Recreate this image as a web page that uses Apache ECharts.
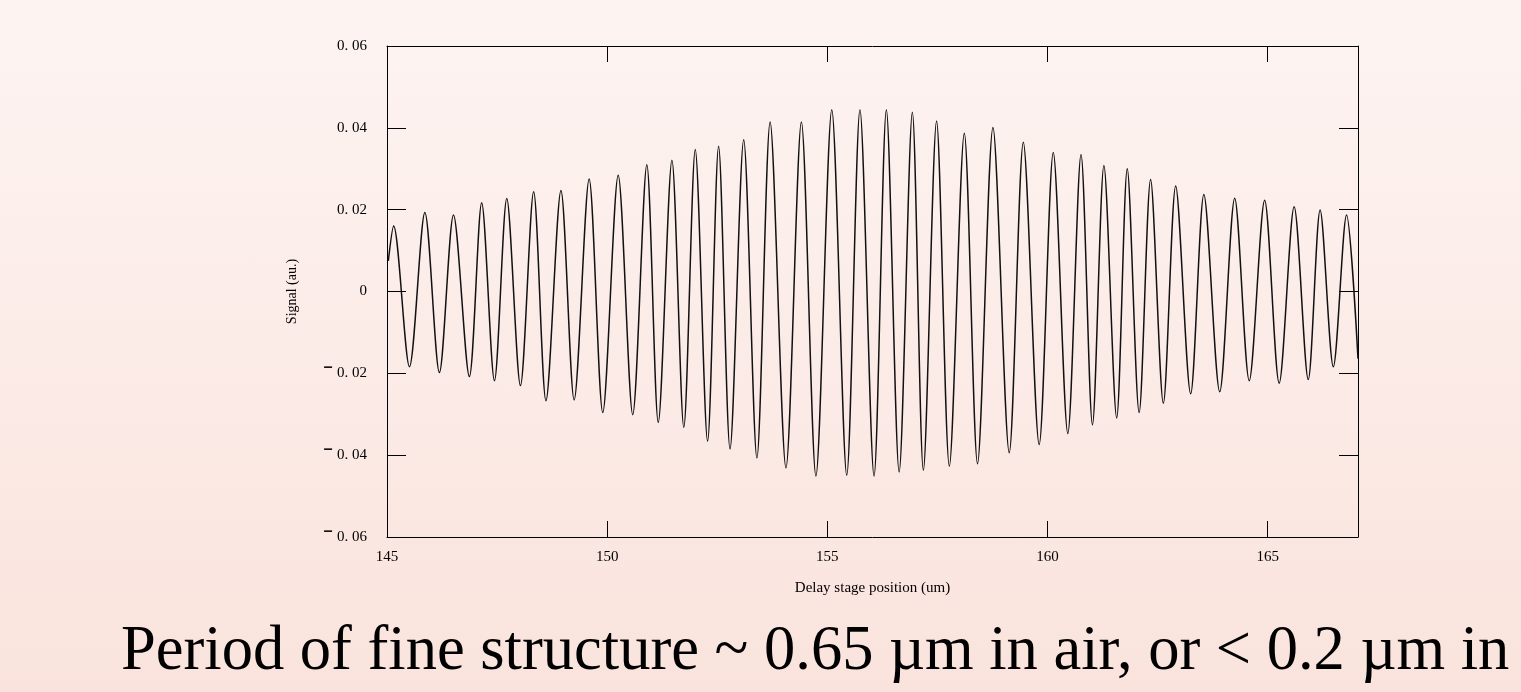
<!DOCTYPE html>
<html>
<head>
<meta charset="utf-8">
<script src="https://cdn.jsdelivr.net/npm/echarts@6/dist/echarts.min.js"></script>
<style>
html,body{margin:0;padding:0;width:1521px;height:692px;background:linear-gradient(to bottom,#fdf4f2,#fae3dd);}
#c{width:1521px;height:692px;}
</style>
</head>
<body>
<div id="c"></div>
<script>
// Extrema of the interferogram (delay position in µm, signal in a.u.)
const positions = [145.03,145.15,145.51,145.86,146.19,146.51,146.87,147.15,147.44,147.72,148.03,148.33,148.61,148.95,149.25,149.59,149.90,150.25,150.58,150.90,151.16,151.47,151.74,152.00,152.28,152.53,152.79,153.10,153.40,153.70,154.06,154.41,154.74,155.10,155.44,155.74,156.06,156.34,156.63,156.93,157.18,157.48,157.77,158.11,158.41,158.76,159.13,159.45,159.81,160.13,160.46,160.76,161.02,161.28,161.57,161.81,162.08,162.34,162.63,162.91,163.25,163.55,163.91,164.25,164.58,164.93,165.26,165.60,165.92,166.19,166.49,166.79,167.05];
const signal = [0.0075,0.0160,-0.0184,0.0193,-0.0198,0.0187,-0.0208,0.0217,-0.0218,0.0227,-0.0230,0.0244,-0.0267,0.0247,-0.0265,0.0275,-0.0296,0.0284,-0.0301,0.0310,-0.0320,0.0321,-0.0332,0.0347,-0.0366,0.0355,-0.0385,0.0371,-0.0407,0.0414,-0.0431,0.0414,-0.0451,0.0444,-0.0449,0.0444,-0.0451,0.0444,-0.0441,0.0438,-0.0437,0.0417,-0.0427,0.0387,-0.0421,0.0401,-0.0394,0.0365,-0.0374,0.0340,-0.0347,0.0335,-0.0326,0.0308,-0.0309,0.0300,-0.0296,0.0274,-0.0273,0.0258,-0.0250,0.0237,-0.0245,0.0228,-0.0218,0.0223,-0.0224,0.0207,-0.0215,0.0199,-0.0184,0.0187,-0.0164];
const xTicks = [145,150,155,160,165];
const yTicks = [-0.06,-0.04,-0.02,0,0.02,0.04,0.06];
const xTitle = 'Delay stage position (um)';
const yTitle = 'Signal (au.)';
const caption = 'Period of fine structure ~ 0.65 µm in air, or < 0.2 µm in';

const serif = '"Liberation Serif","Times New Roman",serif';
const data = positions.map((p,i)=>[p,signal[i]]);
function yFmt(v){
  if (Math.abs(v) < 1e-9) return '0';
  const s = Math.abs(v).toFixed(2).replace('.', '. ');
  return v < 0 ? '{m|\u207B} ' + s : s;
}
const chart = echarts.init(document.getElementById('c'), null, {renderer:'canvas'});
const axisLine = {show:true, onZero:false, lineStyle:{color:'#000', width:1}};
chart.setOption({
  backgroundColor:'transparent',
  animation:false,
  graphic:[{
    type:'text', left:121, top:621, silent:true,
    style:{text:caption, fontFamily:serif, fontSize:62.5, fill:'#000'}
  }],
  grid:{left:387, right:163, top:46, bottom:155, containLabel:false},
  xAxis:[{
    type:'value', min:145, max:167.05, interval:5,
    name:xTitle, nameLocation:'middle', nameGap:44,
    nameTextStyle:{fontFamily:serif, fontSize:15, color:'#000'},
    axisLine:axisLine,
    axisTick:{show:true, inside:true, length:16, lineStyle:{color:'#000'}},
    axisLabel:{fontFamily:serif, fontSize:15, color:'#000', margin:13,
      showMaxLabel:false, formatter:v=>xTicks.includes(v)?String(v):''},
    splitLine:{show:false}
  },{
    type:'value', position:'top', min:145, max:167.05, interval:5,
    axisLine:axisLine,
    axisTick:{show:true, inside:true, length:16, lineStyle:{color:'#000'}},
    axisLabel:{show:false}, splitLine:{show:false}
  }],
  yAxis:[{
    type:'value', min:-0.06, max:0.06, interval:0.02,
    name:yTitle, nameLocation:'middle', nameGap:88,
    nameTextStyle:{fontFamily:serif, fontSize:14, color:'#000'},
    axisLine:axisLine,
    axisTick:{show:true, inside:true, length:19, lineStyle:{color:'#000'}},
    axisLabel:{fontFamily:serif, fontSize:15, color:'#000', margin:20,
      rich:{m:{fontFamily:serif, fontSize:30, color:'#000', padding:[8,0,0,0]}},
      formatter:v=>yFmt(yTicks.find(t=>Math.abs(t-v)<1e-9) ?? v)},
    splitLine:{show:false}
  },{
    type:'value', position:'right', min:-0.06, max:0.06, interval:0.02,
    axisLine:axisLine,
    axisTick:{show:true, inside:true, length:19, lineStyle:{color:'#000'}},
    axisLabel:{show:false}, splitLine:{show:false}
  }],
  series:[{
    type:'line', data:data, xAxisIndex:0, yAxisIndex:0,
    showSymbol:false, smooth:0.3,
    lineStyle:{color:'#111', width:1.5},
    clip:true
  }]
});
</script>
</body>
</html>
